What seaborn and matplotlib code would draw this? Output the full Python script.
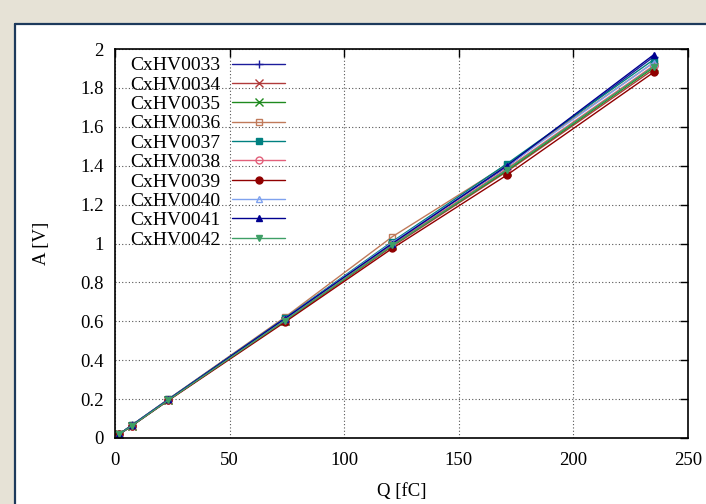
import matplotlib
matplotlib.use("Agg")
import matplotlib.pyplot as plt
import matplotlib.patches as mpatches
import matplotlib.lines as mlines
import seaborn as sns
import pandas as pd

# Charge injected (fC) and measured amplitude (V) per channel
charge = [1.9, 7.3, 23.3, 74.0, 121.0, 171.0, 235.0]
channels = ["CxHV0033", "CxHV0034", "CxHV0035", "CxHV0036", "CxHV0037",
            "CxHV0038", "CxHV0039", "CxHV0040", "CxHV0041", "CxHV0042"]
amp_0033 = [0.020, 0.065, 0.197, 0.610, 1.005, 1.395, 1.960]
amp_0034 = [0.020, 0.063, 0.195, 0.600, 0.985, 1.370, 1.895]
amp_0035 = [0.020, 0.063, 0.195, 0.602, 0.990, 1.375, 1.905]
amp_0036 = [0.020, 0.066, 0.200, 0.620, 1.035, 1.405, 1.930]
amp_0037 = [0.020, 0.066, 0.199, 0.615, 1.010, 1.410, 1.945]
amp_0038 = [0.020, 0.064, 0.196, 0.605, 0.995, 1.385, 1.915]
amp_0039 = [0.019, 0.062, 0.193, 0.595, 0.975, 1.352, 1.880]
amp_0040 = [0.020, 0.065, 0.198, 0.612, 1.005, 1.398, 1.930]
amp_0041 = [0.020, 0.065, 0.198, 0.613, 1.000, 1.400, 1.970]
amp_0042 = [0.020, 0.063, 0.195, 0.603, 0.990, 1.380, 1.910]
amplitudes = [amp_0033, amp_0034, amp_0035, amp_0036, amp_0037,
              amp_0038, amp_0039, amp_0040, amp_0041, amp_0042]

x_ticks = [0, 50, 100, 150, 200, 250]
y_ticks = [0, 0.2, 0.4, 0.6, 0.8, 1, 1.2, 1.4, 1.6, 1.8, 2]

colors = ["#1c1c9c", "#b03a3a", "#1f8a1f", "#c07a5a", "#008080",
          "#e2607a", "#900000", "#7fa2ee", "#000090", "#3f9f66"]
markers = ["+", "x", "x", "s", "s", "o", "o", "^", "^", "v"]
filled = [True, True, True, False, True, False, True, False, True, True]

frames = []
for name, vals in zip(channels, amplitudes):
    frames.append(pd.DataFrame({"Q": charge, "A": vals, "channel": name}))
df = pd.concat(frames, ignore_index=True)

sns.set_style("white")
plt.rcParams["font.family"] = ["Liberation Serif", "DejaVu Serif"]
plt.rcParams["text.color"] = "black"
plt.rcParams["axes.labelcolor"] = "black"
plt.rcParams["xtick.color"] = "black"
plt.rcParams["ytick.color"] = "black"

fig = plt.figure(figsize=(7.06, 5.04), dpi=100)
fig.patch.set_facecolor("#e6e2d6")

# white page with a dark edge on its left and top
W, H = 706, 504
page = mpatches.Rectangle((15 / W, 0), 1, 1 - 24 / H, transform=fig.transFigure,
                          facecolor="white", edgecolor="none", zorder=-10)
fig.patches.append(page)
fig.lines.append(mlines.Line2D([15 / W, 15 / W], [0, 1 - 24 / H], transform=fig.transFigure,
                               color="#1d3a5c", lw=1.6, zorder=-5))
fig.lines.append(mlines.Line2D([15 / W, 1], [1 - 24 / H, 1 - 24 / H], transform=fig.transFigure,
                               color="#1d3a5c", lw=1.6, zorder=-5))

ax = fig.add_axes([115 / W, 1 - 438 / H, (688 - 115) / W, (438 - 49) / H])
ax.set_facecolor("white")

for i, name in enumerate(channels):
    sub = df[df["channel"] == name]
    kw = dict(marker=markers[i], markersize=5 if markers[i] not in "+x" else 6,
              markeredgewidth=1.0, markeredgecolor=colors[i], linewidth=1.0)
    if not filled[i]:
        kw["markerfacecolor"] = "none"
    else:
        kw["markerfacecolor"] = colors[i]
    sns.lineplot(data=sub, x="Q", y="A", color=colors[i], label=name, ax=ax, **kw)

ax.set_xlim(0, 250)
ax.set_ylim(0, 2)
ax.set_xticks(x_ticks)
ax.set_yticks(y_ticks)
ax.set_xticklabels([f"{t:g}" for t in x_ticks])
ax.set_yticklabels([f"{t:g}" for t in y_ticks])
ax.tick_params(direction="in", length=6, width=1, top=True, right=True,
               labelsize=13.5, pad=10, colors="black")
ax.tick_params(axis="y", pad=8)
ax.grid(True, linestyle=(0, (1, 2)), color="#555555", linewidth=0.8)
for s in ax.spines.values():
    s.set_color("black")
    s.set_linewidth(1.2)

ax.set_xlabel("Q [fC]", fontsize=13.5, labelpad=10)
ax.set_ylabel("A [V]", fontsize=13.5, labelpad=22)

leg = ax.legend(loc="upper left", frameon=False, markerfirst=False, fontsize=14,
                handlelength=2.7, labelspacing=0.09, borderaxespad=0.1,
                handletextpad=0.6, bbox_to_anchor=(0.01, 1.005))

fig.savefig("out.png", dpi=100, facecolor=fig.get_facecolor())
